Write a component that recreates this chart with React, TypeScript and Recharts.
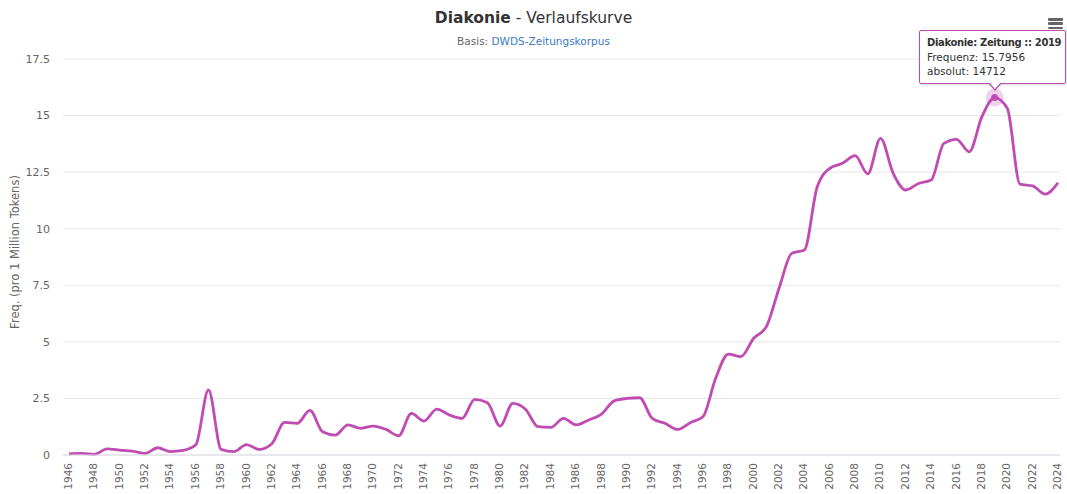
import React from 'react';
import { LineChart, Line, XAxis, YAxis, CartesianGrid, Tooltip } from 'recharts';

const years = [
  1946, 1947, 1948, 1949, 1950, 1951, 1952, 1953, 1954, 1955,
  1956, 1957, 1958, 1959, 1960, 1961, 1962, 1963, 1964, 1965,
  1966, 1967, 1968, 1969, 1970, 1971, 1972, 1973, 1974, 1975,
  1976, 1977, 1978, 1979, 1980, 1981, 1982, 1983, 1984, 1985,
  1986, 1987, 1988, 1989, 1990, 1991, 1992, 1993, 1994, 1995,
  1996, 1997, 1998, 1999, 2000, 2001, 2002, 2003, 2004, 2005,
  2006, 2007, 2008, 2009, 2010, 2011, 2012, 2013, 2014, 2015,
  2016, 2017, 2018, 2019, 2020, 2021, 2022, 2023, 2024,
];

// Frequenz pro 1 Million Tokens
const frequency = [
  0.05, 0.07, 0.03, 0.27, 0.22, 0.17, 0.07, 0.32, 0.15, 0.2,
  0.45, 2.88, 0.25, 0.15, 0.46, 0.25, 0.5, 1.44, 1.4, 1.97,
  1.03, 0.88, 1.33, 1.18, 1.28, 1.13, 0.85, 1.84, 1.5, 2.03,
  1.77, 1.62, 2.46, 2.31, 1.28, 2.28, 2.02, 1.25, 1.22, 1.62,
  1.33, 1.55, 1.81, 2.39, 2.5, 2.53, 1.62, 1.4, 1.13, 1.43,
  1.69, 3.39, 4.46, 4.35, 5.16, 5.67, 7.37, 8.91, 9.06, 11.83,
  12.67, 12.89, 13.23, 12.42, 13.99, 12.45, 11.71, 12.0, 12.15, 13.77,
  13.95, 13.4, 14.95, 15.7956, 15.32, 11.97, 11.89, 11.53, 12.03,
];

const xTicks = [
  1946, 1948, 1950, 1952, 1954, 1956, 1958, 1960, 1962, 1964,
  1966, 1968, 1970, 1972, 1974, 1976, 1978, 1980, 1982, 1984,
  1986, 1988, 1990, 1992, 1994, 1996, 1998, 2000, 2002, 2004,
  2006, 2008, 2010, 2012, 2014, 2016, 2018, 2020, 2022, 2024,
];
const yTicks = [0, 2.5, 5, 7.5, 10, 12.5, 15, 17.5];

const highlightYear = 2019;
const highlightAbsolute = 14712;

const lineColor = '#c04bb2';
const font = '"DejaVu Sans", sans-serif';

const data = years.map((year, i) => ({ year, freq: frequency[i] }));

const XTick = ({ x, y, payload }: any) => (
  <text
    x={x - 1}
    y={y}
    transform={`rotate(-90, ${x - 1}, ${y})`}
    textAnchor="end"
    dominantBaseline="central"
    fontSize={10.5}
    fontFamily={font}
    fill="#666666"
  >
    {payload.value}
  </text>
);

const HoverDot = ({ cx, cy }: any) => (
  <g>
    <circle cx={cx} cy={cy} r={9} fill={lineColor} fillOpacity={0.25} />
    <circle cx={cx} cy={cy} r={3.5} fill={lineColor} />
  </g>
);

const TipBox = ({ payload }: any) => {
  if (!payload || !payload.length) return null;
  const p = payload[0].payload;
  return (
    <div
      style={{
        position: 'relative',
        width: 147,
        height: 54,
        boxSizing: 'border-box',
        background: 'rgba(255,255,255,0.96)',
        border: `1px solid ${lineColor}`,
        borderRadius: 2,
        boxShadow: '1px 1px 3px rgba(0,0,0,0.15)',
        padding: '5px 0 0 7px',
        fontFamily: font,
        fontSize: 10.5,
        lineHeight: '14px',
        color: '#333',
        whiteSpace: 'nowrap',
      }}
    >
      <div style={{ fontWeight: 'bold', fontSize: 10, letterSpacing: -0.35 }}>
        Diakonie: Zeitung :: {p.year}
      </div>
      <div>Frequenz: {p.freq}</div>
      <div>absolut: {highlightAbsolute}</div>
      <div
        style={{
          position: 'absolute',
          left: 68,
          bottom: -8,
          width: 0,
          height: 0,
          borderLeft: '7px solid transparent',
          borderRight: '7px solid transparent',
          borderTop: `8px solid ${lineColor}`,
        }}
      />
      <div
        style={{
          position: 'absolute',
          left: 69,
          bottom: -6,
          width: 0,
          height: 0,
          borderLeft: '6px solid transparent',
          borderRight: '6px solid transparent',
          borderTop: '7px solid #fff',
        }}
      />
    </div>
  );
};

export default function App() {
  return (
    <div style={{ position: 'relative', width: 1067, height: 494, background: '#fff', fontFamily: font }}>
      <style>{'body{margin:0}'}</style>
      <div style={{ position: 'absolute', top: 9, left: 0, width: 1067, textAlign: 'center', fontSize: 15.5, color: '#333' }}>
        <span style={{ fontWeight: 'bold' }}>Diakonie</span> - Verlaufskurve
      </div>
      <div style={{ position: 'absolute', top: 35, left: 0, width: 1067, textAlign: 'center', fontSize: 10.5, color: '#666' }}>
        Basis: <span style={{ color: '#3a7bbf' }}>DWDS-Zeitungskorpus</span>
      </div>
      <div
        style={{
          position: 'absolute',
          left: 15,
          top: 252,
          transform: 'translate(-50%, -50%) rotate(-90deg)',
          fontSize: 11.5,
          color: '#666',
          whiteSpace: 'nowrap',
        }}
      >
        Freq. (pro 1 Million Tokens)
      </div>
      <div style={{ position: 'absolute', left: 1048, top: 18, width: 15 }}>
        {[0, 1, 2].map((k) => (
          <div key={k} style={{ height: 2.5, background: '#666', marginBottom: 1.8, borderRadius: 1 }} />
        ))}
      </div>
      <LineChart width={1067} height={494} data={data} margin={{ top: 59, right: 7, left: 0, bottom: 0 }}>
        <CartesianGrid vertical={false} stroke="#e6e6e6" />
        <XAxis
          dataKey="year"
          type="number"
          domain={[1946, 2024]}
          ticks={xTicks}
          interval={0}
          padding={{ left: 6, right: 2 }}
          height={39}
          tickLine={false}
          axisLine={{ stroke: '#dddde6' }}
          tick={<XTick />}
        />
        <YAxis
          domain={[0, 17.5]}
          ticks={yTicks}
          width={63}
          tickLine={false}
          axisLine={false}
          tickMargin={7}
          tick={{ fontSize: 11, fill: '#666666', fontFamily: font }}
        />
        <Tooltip
          active
          defaultIndex={years.indexOf(highlightYear)}
          position={{ x: 919, y: 30 }}
          cursor={false}
          isAnimationActive={false}
          wrapperStyle={{ outline: 'none' }}
          content={<TipBox />}
        />
        <Line
          type="monotone"
          dataKey="freq"
          stroke={lineColor}
          strokeWidth={2.8}
          dot={false}
          activeDot={<HoverDot />}
          isAnimationActive={false}
        />
      </LineChart>
    </div>
  );
}
